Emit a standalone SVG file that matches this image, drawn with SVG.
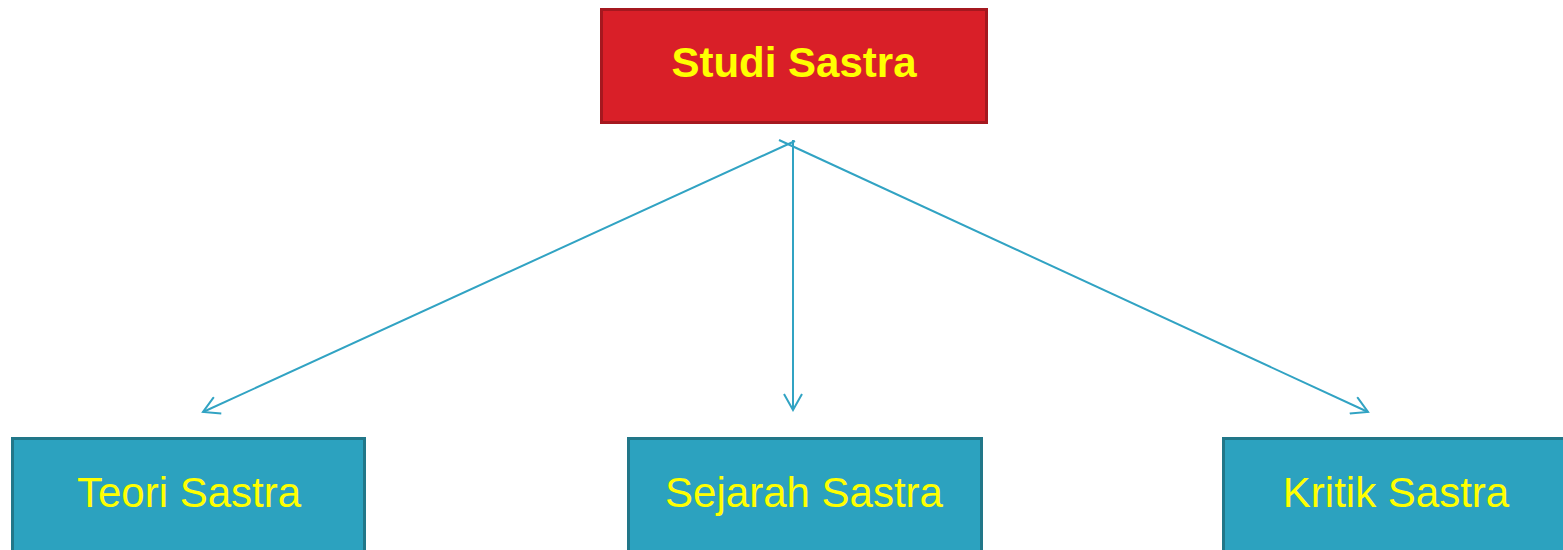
<svg xmlns="http://www.w3.org/2000/svg" width="1563" height="550" viewBox="0 0 1563 550">
<style>
.top{fill:#d91f28;stroke:#a5181f;stroke-width:3}
.box{fill:#2ca2bf;stroke:#217789;stroke-width:3}
.t{fill:#ffff00;font-family:"Liberation Sans",Arial,sans-serif;text-anchor:middle}
.c{stroke:#31a3c3;stroke-width:2;fill:none}
</style>
<defs>
<marker id="a" viewBox="0 0 20 20" refX="18" refY="10" markerWidth="20" markerHeight="20" markerUnits="userSpaceOnUse" orient="auto">
<path d="M2,1 L18,10 L2,19" fill="none" stroke="#31a3c3" stroke-width="2"/>
</marker>
</defs>
<rect width="1563" height="550" fill="#ffffff"/>
<g id="connectors">
<line class="c" x1="795" y1="141" x2="203" y2="412" marker-end="url(#a)"/>
<line class="c" x1="793" y1="140" x2="793" y2="410" marker-end="url(#a)"/>
<line class="c" x1="779" y1="140" x2="1368" y2="412" marker-end="url(#a)"/>
</g>
<g id="studi">
<rect class="top" x="601.5" y="9.5" width="385" height="113"/>
<text class="t" x="794" y="77" font-size="42" font-weight="bold">Studi Sastra</text>
</g>
<g id="teori">
<rect class="box" x="12.5" y="438.5" width="352" height="120"/>
<text class="t" x="189" y="507" font-size="42">Teori Sastra</text>
</g>
<g id="sejarah">
<rect class="box" x="628.5" y="438.5" width="353" height="120"/>
<text class="t" x="804" y="507" font-size="42">Sejarah Sastra</text>
</g>
<g id="kritik">
<rect class="box" x="1223.5" y="438.5" width="350" height="120"/>
<text class="t" x="1396" y="507" font-size="42">Kritik Sastra</text>
</g>
</svg>
